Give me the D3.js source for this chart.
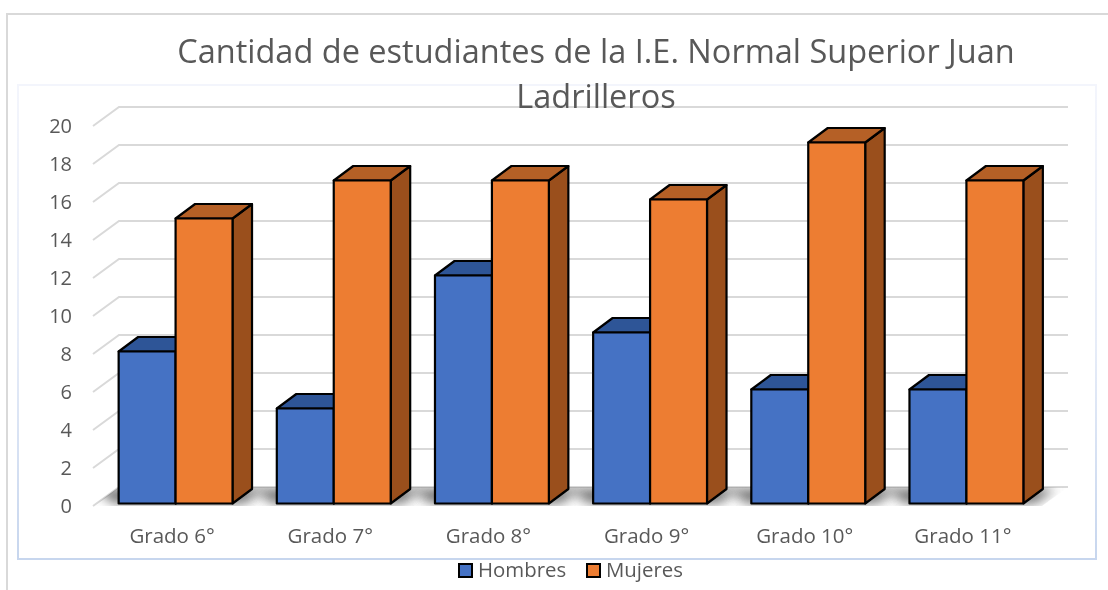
<!DOCTYPE html>
<html>
<head>
<meta charset="utf-8">
<script src="https://cdn.jsdelivr.net/npm/d3@7"></script>
<style>
  html, body { margin: 0; padding: 0; background: #fff; }
  svg { display: block; }
  text { font-family: "Open Sans", "Noto Sans", sans-serif; fill: #595959; }
</style>
</head>
<body>
<div class="chart"></div>
<script>
const categories = ["Grado 6°", "Grado 7°", "Grado 8°", "Grado 9°", "Grado 10°", "Grado 11°"];
const hombres = [8, 5, 12, 9, 6, 6];
const mujeres = [15, 17, 17, 16, 19, 17];
const seriesNames = ["Hombres", "Mujeres"];
const yTicks = [0, 2, 4, 6, 8, 10, 12, 14, 16, 18, 20];
const titleLines = ["Cantidad de estudiantes de la I.E. Normal Superior Juan", "Ladrilleros"];

const colors = {
  Hombres: {front: "#4472c4", top: "#2f5597", side: "#2f5597"},
  Mujeres: {front: "#ed7d31", top: "#b56026", side: "#9a4f1c"}
};

let width = 1108, height = 590;

let root = d3.select(".chart").append("svg")
  .attr("width", width)
  .attr("height", height);

let defs = root.append("defs");
defs.append("filter").attr("id", "floorBlur")
  .attr("x", "-20%").attr("y", "-150%").attr("width", "140%").attr("height", "400%")
  .append("feGaussianBlur").attr("stdDeviation", 6);
defs.append("filter").attr("id", "soften")
  .attr("filterUnits", "userSpaceOnUse")
  .attr("x", 0).attr("y", 0).attr("width", width).attr("height", height)
  .append("feGaussianBlur").attr("stdDeviation", 0.4);
defs.append("clipPath").attr("id", "floorClip")
  .append("path").attr("d", "M93,506L119,487H1068L1042,506Z");

let edgeFade = defs.append("linearGradient").attr("id", "insetEdge")
  .attr("x1", 0).attr("y1", 0).attr("x2", 0).attr("y2", 1);
edgeFade.append("stop").attr("offset", "0%").attr("stop-color", "#f3f5fc");
edgeFade.append("stop").attr("offset", "55%").attr("stop-color", "#e6ecf8");
edgeFade.append("stop").attr("offset", "100%").attr("stop-color", "#c7d6ee");

// the reference is a slightly soft screenshot
let svg = root.append("g").attr("filter", "url(#soften)");

// page frames
svg.append("path")
  .attr("d", "M7,590V14H1108")
  .attr("fill", "none").attr("stroke", "#d9d9d9").attr("stroke-width", 2);
svg.append("rect")
  .attr("x", 18).attr("y", 85).attr("width", 1078).attr("height", 474)
  .attr("fill", "none").attr("stroke", "url(#insetEdge)").attr("stroke-width", 2);

// scales: the front plane of the 3d box, the back wall is shifted by depth
let x = d3.scaleBand().domain(categories).range([93, 1042]).paddingInner(0.28).paddingOuter(0.14);
let y = d3.scaleLinear().domain([0, 20]).range([503.5, 123.5]);
let wall = {dx: 26, dy: -16.5};
let bar = {dx: 19.5, dy: -14.5, shift: 3.5};

// gridlines on wall and left side
svg.append("g").selectAll("path")
  .data(yTicks)
  .enter().append("path")
    .attr("fill", "none")
    .attr("stroke", "#d9d9d9")
    .attr("stroke-width", 2)
    .attr("d", function(d) {
      let yb = y(d) + wall.dy;
      return "M93," + (yb + 19) + "L119," + yb + "H1068";
    });

// floor shadow
let floor = svg.append("g").attr("clip-path", "url(#floorClip)");
floor.selectAll("path")
  .data(categories)
  .enter().append("path")
    .attr("fill", "#6b6b6b")
    .attr("filter", "url(#floorBlur)")
    .attr("d", function(d) {
      let x0 = x(d) + bar.shift, x1 = x0 + x.bandwidth();
      return "M" + (x0 - 24) + ",489L" + (x1 + 32) + ",489L" + (x1 + 12) + ",503L" + (x0 - 4) + ",503Z";
    });

function drawBar(g, name, values, offset) {
  let w = x.bandwidth() / 2;
  let c = colors[name];
  let groups = g.selectAll("g." + name)
    .data(categories)
    .enter().append("g")
      .attr("class", name)
      .attr("stroke", "#000")
      .attr("stroke-width", 2.2)
      .attr("stroke-linejoin", "round");

  groups.append("path")
    .attr("fill", c.side)
    .attr("d", function(d, i) {
      let xr = x(d) + bar.shift + offset * w + w;
      return "M" + xr + "," + y(0) + "l" + bar.dx + "," + bar.dy + "V" + (y(values[i]) + bar.dy) + "L" + xr + "," + y(values[i]) + "Z";
    });
  groups.append("path")
    .attr("fill", c.top)
    .attr("d", function(d, i) {
      let xl = x(d) + bar.shift + offset * w;
      return "M" + xl + "," + y(values[i]) + "l" + bar.dx + "," + bar.dy + "h" + w + "l" + (-bar.dx) + "," + (-bar.dy) + "Z";
    });
  groups.append("rect")
    .attr("fill", c.front)
    .attr("x", function(d) { return x(d) + bar.shift + offset * w; })
    .attr("y", function(d, i) { return y(values[i]); })
    .attr("width", w)
    .attr("height", function(d, i) { return y(0) - y(values[i]); });
}

let bars = svg.append("g");
drawBar(bars, "Hombres", hombres, 0);
drawBar(bars, "Mujeres", mujeres, 1);

// axes
let yAxis = d3.axisLeft(y).tickValues(yTicks).tickSize(0).tickPadding(5);
let gy = svg.append("g").attr("transform", "translate(77,3)").call(yAxis);
gy.select(".domain").remove();
gy.selectAll("text").style("font-size", "20px").style("font-family", '"Open Sans"').attr("fill", "#595959");

let xAxis = d3.axisBottom(x).tickSize(0).tickPadding(10);
let gx = svg.append("g").attr("transform", "translate(0,518)").call(xAxis);
gx.select(".domain").remove();
gx.selectAll("text").style("font-size", "20.5px").style("font-family", '"Open Sans"').attr("fill", "#595959");

// title
svg.append("g").selectAll("text")
  .data(titleLines)
  .enter().append("text")
    .attr("x", 596)
    .attr("y", function(d, i) { return 63 + i * 45; })
    .attr("text-anchor", "middle")
    .style("font-size", "32.5px")
    .text(function(d) { return d; });

// legend
let legendX = d3.scaleOrdinal().domain(seriesNames).range([459, 587]);
let legend = svg.append("g").selectAll("g")
  .data(seriesNames)
  .enter().append("g")
    .attr("transform", function(d) { return "translate(" + legendX(d) + ",564)"; });
legend.append("rect")
  .attr("width", 13).attr("height", 13)
  .attr("fill", function(d) { return colors[d].front; })
  .attr("stroke", "#000").attr("stroke-width", 2);
legend.append("text")
  .attr("x", 19).attr("y", 13)
  .style("font-size", "20.4px")
  .text(function(d) { return d; });
</script>
</body>
</html>
